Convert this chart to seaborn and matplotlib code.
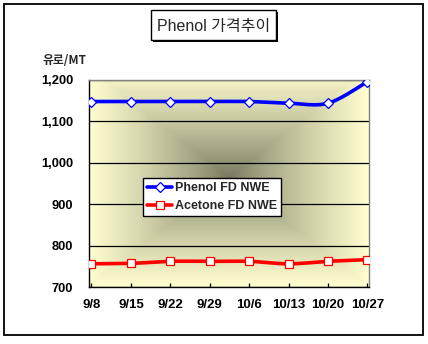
import numpy as np
import pandas as pd
import matplotlib
matplotlib.use("Agg")
import matplotlib.pyplot as plt
from matplotlib.lines import Line2D
from matplotlib.patches import Rectangle
import seaborn as sns

dates = ["9/8", "9/15", "9/22", "9/29", "10/6", "10/13", "10/20", "10/27"]
phenol = [1148, 1148, 1148, 1148, 1148, 1144, 1144, 1196]
acetone = [756, 757, 762, 762, 762, 756, 762, 766]
y_ticks = [700, 800, 900, 1000, 1100, 1200]
y_labels = ["700", "800", "900", "1,000", "1,100", "1,200"]
title = "Phenol 가격추이"
unit = "유로/MT"
series_names = ["Phenol FD NWE", "Acetone FD NWE"]

sns.set_theme(style="white")
plt.rcParams['font.family'] = ['Liberation Sans', 'Noto Sans CJK KR', 'DejaVu Sans']

W, H = 428, 344
fig = plt.figure(figsize=(W / 100, H / 100), dpi=100)
fig.patch.set_facecolor("white")

def fx(px):
    return px / W

def fy(py):
    return 1 - py / H

L, R, T, B = 89, 369, 80, 287
ax = fig.add_axes([fx(L), fy(B), (R - L) / W, (B - T) / H])

# background gradient (rectangular, from center)
ny, nx = 200, 280
yy, xx = np.mgrid[0:ny, 0:nx]
u = (xx + 0.5) / nx * 2 - 1
v = (yy + 0.5) / ny * 2 - 1
v = (v + 0.06) / 1.06
t = np.clip(np.maximum(np.abs(u), np.abs(v)), 0, 1)
t = t ** 0.75
c0 = np.array([116, 114, 90]) / 255
c1 = np.array([255, 255, 208]) / 255
img = c0[None, None, :] * (1 - t[..., None]) + c1[None, None, :] * t[..., None]
ax.imshow(img, extent=(0, 1, 0, 1), transform=ax.transAxes, aspect="auto",
          zorder=0, interpolation="nearest")

x = np.arange(len(dates))


def catmull(xv, yv, n=24):
    xv = np.asarray(xv, float)
    yv = np.asarray(yv, float)
    P = np.column_stack([xv, yv])
    P = np.vstack([P[0], P, P[-1]])
    out = []
    for i in range(1, len(P) - 2):
        p0, p1, p2, p3 = P[i - 1], P[i], P[i + 1], P[i + 2]
        ts = np.linspace(0, 1, n, endpoint=(i == len(P) - 3))
        for tt in ts:
            t2, t3 = tt * tt, tt * tt * tt
            pt = 0.5 * ((2 * p1) + (-p0 + p2) * tt + (2 * p0 - 5 * p1 + 4 * p2 - p3) * t2
                        + (-p0 + 3 * p1 - 3 * p2 + p3) * t3)
            out.append(pt)
    out = np.array(out)
    return out[:, 0], out[:, 1]


blue = "#0000FF"
red = "#FF0000"
for vals, col, mk, ms in [(phenol, blue, "D", 5.2), (acetone, red, "s", 5.6)]:
    sx, sy = catmull(x, vals)
    sns.lineplot(x=sx, y=sy, ax=ax, color=col, lw=2.6, sort=False,
                 estimator=None, zorder=3, legend=False)
    sns.lineplot(x=x, y=vals, ax=ax, color=col, linestyle="none", marker=mk,
                 markersize=ms, markerfacecolor="white", markeredgecolor=col,
                 markeredgewidth=0.9, estimator=None, zorder=4, legend=False)

ax.set_xlim(-0.063, 7.04)
ax.set_ylim(700, 1200)
ax.set_yticks(y_ticks)
ax.set_yticklabels(y_labels)
ax.set_xticks(x)
ax.set_xticklabels(dates)
ax.set_xlabel("")
ax.set_ylabel("")

ax.yaxis.grid(True, color="black", lw=0.9)
ax.xaxis.grid(False)
ax.set_axisbelow(True)

for s in ["left", "bottom"]:
    ax.spines[s].set_color("black")
    ax.spines[s].set_linewidth(1.0)
for s in ["top", "right"]:
    ax.spines[s].set_color("#808080")
    ax.spines[s].set_linewidth(1.0)
    ax.spines[s].set_visible(True)

ax.tick_params(axis="y", length=0, pad=11.5, labelsize=9.3)
ax.tick_params(axis="x", direction="in", length=3, width=0.9, color="black",
               pad=9.0, labelsize=9.5, bottom=True)
for lab in ax.get_xticklabels() + ax.get_yticklabels():
    lab.set_fontweight("bold")
    lab.set_color("black")

handles = [
    Line2D([], [], color=blue, lw=2.6, marker="D", markersize=5.2,
           markerfacecolor="white", markeredgecolor=blue, markeredgewidth=0.9),
    Line2D([], [], color=red, lw=2.6, marker="s", markersize=5.6,
           markerfacecolor="white", markeredgecolor=red, markeredgewidth=0.9),
]
leg = ax.legend(handles, series_names, loc="upper left",
                bbox_to_anchor=(fx(143), fy(178)), bbox_transform=fig.transFigure,
                borderaxespad=0, fancybox=False, framealpha=1, edgecolor="black",
                facecolor="white", prop={"size": 9, "weight": "bold"},
                handlelength=2.0, handletextpad=0.2, labelspacing=0.45,
                borderpad=0.35)
leg.get_frame().set_linewidth(1.0)
leg.set_zorder(10)

# unit label
fig.text(fx(43), fy(60), unit, ha="left", va="center", fontsize=8.5,
         fontweight="bold", family=["Noto Sans CJK KR", "DejaVu Sans"])

# title box with shadow
tx0, ty0, tx1, ty1 = 151, 10, 276, 40
fig.patches.append(Rectangle((fx(tx0 + 2), fy(ty1 + 2)), (tx1 - tx0) / W, (ty1 - ty0) / H,
                             transform=fig.transFigure, facecolor="black",
                             edgecolor="black", lw=0, zorder=1))
fig.patches.append(Rectangle((fx(tx0), fy(ty1)), (tx1 - tx0) / W, (ty1 - ty0) / H,
                             transform=fig.transFigure, facecolor="white",
                             edgecolor="black", lw=1.0, zorder=2))
fig.text(fx((tx0 + tx1) / 2), fy((ty0 + ty1) / 2 + 1), title, ha="center", va="center",
         fontsize=11.5, zorder=3, family=["Liberation Sans", "Noto Sans CJK KR"])

# outer border
fig.patches.append(Rectangle((fx(4), fy(335)), (423 - 4) / W, (335 - 4) / H,
                             transform=fig.transFigure, facecolor="none",
                             edgecolor="black", lw=1.3, zorder=0))

fig.savefig("out.png", dpi=100)
